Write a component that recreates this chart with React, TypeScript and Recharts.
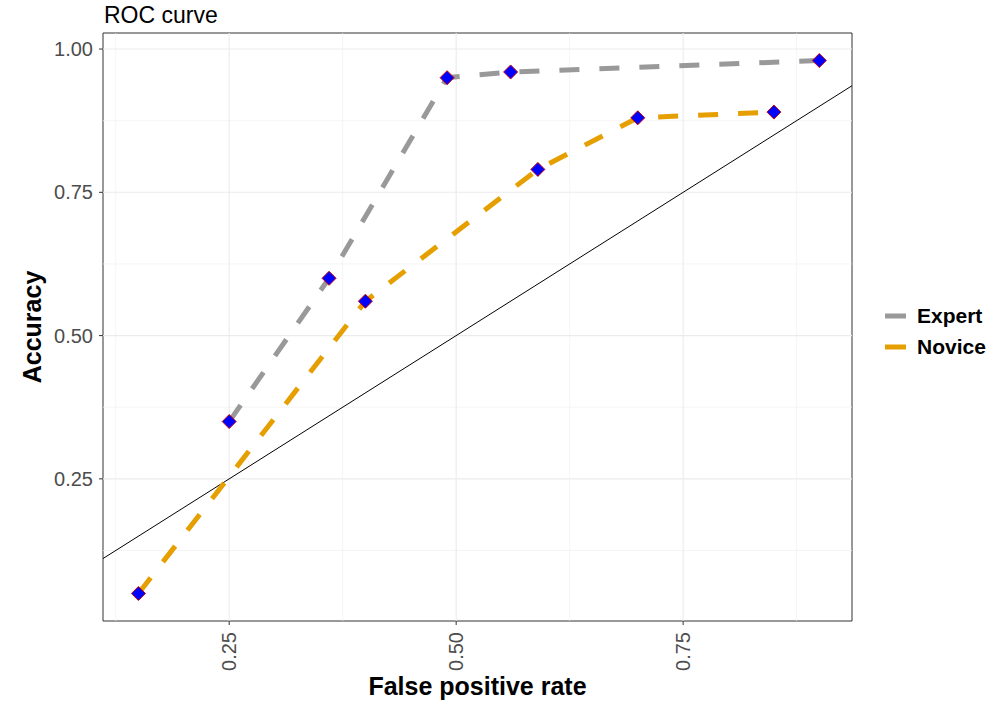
import React from 'react';
import {
  ComposedChart,
  XAxis,
  YAxis,
  Line,
  Scatter,
  ReferenceLine,
  ReferenceArea,
  Label,
} from 'recharts';

// ROC points
const expertFpr = [0.25, 0.36, 0.49, 0.56, 0.9];
const expertAcc = [0.35, 0.6, 0.95, 0.96, 0.98];
const noviceFpr = [0.15, 0.4, 0.59, 0.7, 0.85];
const noviceAcc = [0.05, 0.56, 0.79, 0.88, 0.89];

const xTicks = [0.25, 0.5, 0.75];
const yTicks = [0.25, 0.5, 0.75, 1.0];
const xMinor = [0.125, 0.375, 0.625, 0.875];
const yMinor = [0.125, 0.375, 0.625, 0.875];

const X_DOMAIN: [number, number] = [0.111, 0.936];
const Y_DOMAIN: [number, number] = [0.002, 1.028];

const FONT = '"Liberation Sans", Arial, sans-serif';
const EXPERT_COLOR = '#999999';
const NOVICE_COLOR = '#E69F00';

const toPoints = (xs: number[], ys: number[]) => xs.map((x, i) => ({ x, y: ys[i] }));

const expertData = toPoints(expertFpr, expertAcc);
const noviceData = toPoints(noviceFpr, noviceAcc);

const series = [
  { name: 'Expert', data: expertData, color: EXPERT_COLOR },
  { name: 'Novice', data: noviceData, color: NOVICE_COLOR },
];

const Diamond = ({ cx, cy }: any) => {
  const r = 7;
  return (
    <polygon
      points={`${cx},${cy - r} ${cx + r},${cy} ${cx},${cy + r} ${cx - r},${cy}`}
      fill="#0000FF"
      stroke="#CC0000"
      strokeWidth={1}
    />
  );
};

const XTick = ({ x, y, payload }: any) => (
  <text
    transform={`translate(${x},${y}) rotate(-90)`}
    textAnchor="end"
    dominantBaseline="central"
    fill="#4D4D4D"
    fontSize={20}
    fontFamily={FONT}
  >
    {Number(payload.value).toFixed(2)}
  </text>
);

const YTick = ({ x, y, payload }: any) => (
  <text x={x} y={y} textAnchor="end" dominantBaseline="central" fill="#4D4D4D" fontSize={20} fontFamily={FONT}>
    {Number(payload.value).toFixed(2)}
  </text>
);

const LegendBox = () => (
  <div style={{ position: 'absolute', left: 885, top: 300, fontFamily: FONT }}>
    {series.map((s) => (
      <div key={s.name} style={{ display: 'flex', alignItems: 'center', height: 31 }}>
        <svg width={21} height={10} style={{ marginRight: 11 }}>
          <line x1={0} y1={5} x2={21} y2={5} stroke={s.color} strokeWidth={5} />
        </svg>
        <span style={{ fontSize: 21, fontWeight: 'bold', color: '#000' }}>{s.name}</span>
      </div>
    ))}
  </div>
);

export default function App() {
  return (
    <div style={{ position: 'absolute', left: 0, top: 0, width: 1008, height: 705, background: '#fff' }}>
      <div
        style={{
          position: 'absolute',
          left: 104,
          top: 2,
          fontFamily: FONT,
          fontSize: 23,
          color: '#000',
        }}
      >
        ROC curve
      </div>
      <ComposedChart width={1008} height={705} margin={{ top: 33, right: 156, bottom: 0, left: 0 }}>
        <XAxis
          type="number"
          dataKey="x"
          domain={X_DOMAIN}
          allowDataOverflow
          ticks={xTicks}
          height={84}
          axisLine={false}
          tickSize={4}
          tickMargin={7}
          tickLine={{ stroke: '#333333' }}
          tick={<XTick />}
        >
          <Label
            content={({ viewBox }: any) => (
              <text
                x={viewBox.x + viewBox.width / 2}
                y={695}
                textAnchor="middle"
                fontSize={25}
                fontWeight="bold"
                fontFamily={FONT}
                fill="#000"
              >
                False positive rate
              </text>
            )}
          />
        </XAxis>
        <YAxis
          type="number"
          dataKey="y"
          domain={Y_DOMAIN}
          allowDataOverflow
          ticks={yTicks}
          width={103}
          axisLine={false}
          tickSize={4}
          tickMargin={6}
          tickLine={{ stroke: '#333333' }}
          tick={<YTick />}
        >
          <Label
            content={({ viewBox }: any) => {
              const cy = viewBox.y + viewBox.height / 2;
              return (
                <text
                  transform={`translate(41,${cy}) rotate(-90)`}
                  textAnchor="middle"
                  fontSize={25}
                  fontWeight="bold"
                  fontFamily={FONT}
                  fill="#000"
                >
                  Accuracy
                </text>
              );
            }}
          />
        </YAxis>

        {xMinor.map((v) => (
          <ReferenceLine key={`xm${v}`} x={v} stroke="#F0F0F0" strokeWidth={0.7} />
        ))}
        {yMinor.map((v) => (
          <ReferenceLine key={`ym${v}`} y={v} stroke="#F0F0F0" strokeWidth={0.7} />
        ))}
        {xTicks.map((v) => (
          <ReferenceLine key={`xM${v}`} x={v} stroke="#EBEBEB" strokeWidth={1.1} />
        ))}
        {yTicks.map((v) => (
          <ReferenceLine key={`yM${v}`} y={v} stroke="#EBEBEB" strokeWidth={1.1} />
        ))}

        <ReferenceLine
          segment={[
            { x: X_DOMAIN[0], y: X_DOMAIN[0] },
            { x: X_DOMAIN[1], y: X_DOMAIN[1] },
          ]}
          stroke="#000"
          strokeWidth={1}
        />

        {series.map((s) => (
          <Scatter
            key={`pts-${s.name}`}
            name={`${s.name} points`}
            data={s.data}
            dataKey="y"
            shape={<Diamond />}
            isAnimationActive={false}
            legendType="none"
          />
        ))}
        {series.map((s) => (
          <Line
            key={`line-${s.name}`}
            name={s.name}
            data={s.data}
            dataKey="y"
            type="linear"
            stroke={s.color}
            strokeWidth={5}
            strokeDasharray="20 20"
            dot={false}
            activeDot={false}
            isAnimationActive={false}
          />
        ))}

        <ReferenceArea
          x1={X_DOMAIN[0]}
          x2={X_DOMAIN[1]}
          y1={Y_DOMAIN[0]}
          y2={Y_DOMAIN[1]}
          fill="none"
          fillOpacity={0}
          stroke="#333333"
          strokeWidth={1}
        />
      </ComposedChart>
      <LegendBox />
    </div>
  );
}
